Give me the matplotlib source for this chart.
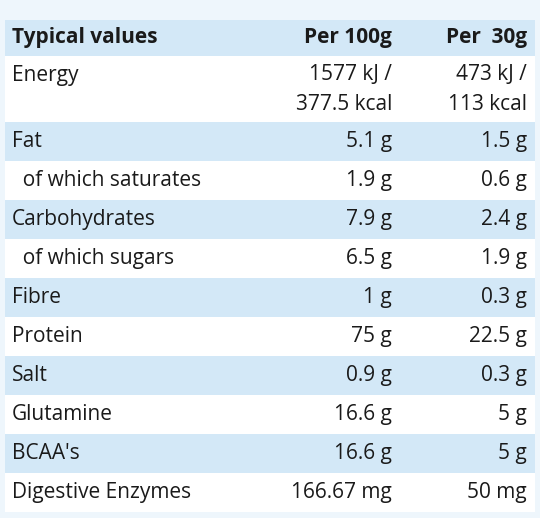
import matplotlib
matplotlib.use("Agg")
import matplotlib.pyplot as plt
from matplotlib.patches import Rectangle

header = ["Typical values", "Per 100g", "Per  30g"]
nutrients = ["Energy", "Fat", "  of which saturates", "Carbohydrates", "  of which sugars",
             "Fibre", "Protein", "Salt", "Glutamine", "BCAA's", "Digestive Enzymes"]
per100 = ["1577 kJ /\n377.5 kcal", "5.1 g", "1.9 g", "7.9 g", "6.5 g", "1 g", "75 g",
          "0.9 g", "16.6 g", "16.6 g", "166.67 mg"]
per30 = ["473 kJ /\n113 kcal", "1.5 g", "0.6 g", "2.4 g", "1.9 g", "0.3 g", "22.5 g",
         "0.3 g", "5 g", "5 g", "50 mg"]

W, H = 540, 518
fig = plt.figure(figsize=(W/100, H/100), dpi=100)
fig.patch.set_facecolor("#eef6fc")
ax = fig.add_axes([0, 0, 1, 1])
ax.set_xlim(0, W); ax.set_ylim(H, 0); ax.axis("off")

blue = "#d3e8f7"; white = "#ffffff"
fs = 15
font = dict(family="Open Sans", color="#1a1a1a", fontsize=fs)
x0, x1 = 5, 535
c1, c2, c3 = 12, 392, 527
top, hh = 20, 36
ax.add_patch(Rectangle((x0, top), x1-x0, hh, color=blue, lw=0))
ym = top + hh/2
ax.text(c1, ym, header[0], ha="left", va="center", weight="bold", **font)
ax.text(c2, ym, header[1], ha="right", va="center", weight="bold", **font)
ax.text(c3, ym, header[2], ha="right", va="center", weight="bold", **font)
y = top + hh
rh = 39
for i, (n, a, b) in enumerate(zip(nutrients, per100, per30)):
    h = 66 if i == 0 else rh
    col = white if i % 2 == 0 else blue
    ax.add_patch(Rectangle((x0, y), x1-x0, h, color=col, lw=0))
    if i == 0:
        ty = y + 19
        ax.text(c1, ty, n, ha="left", va="center", **font)
        ax.text(c2, ty, a.split("\n")[0], ha="right", va="center", **font)
        ax.text(c2, ty + 29, a.split("\n")[1], ha="right", va="center", **font)
        ax.text(c3, ty, b.split("\n")[0], ha="right", va="center", **font)
        ax.text(c3, ty + 29, b.split("\n")[1], ha="right", va="center", **font)
    else:
        ty = y + h/2
        ax.text(c1, ty, n, ha="left", va="center", **font)
        ax.text(c2, ty, a, ha="right", va="center", **font)
        ax.text(c3, ty, b, ha="right", va="center", **font)
    y += h
fig.savefig("out.png", dpi=100, facecolor=fig.get_facecolor())
